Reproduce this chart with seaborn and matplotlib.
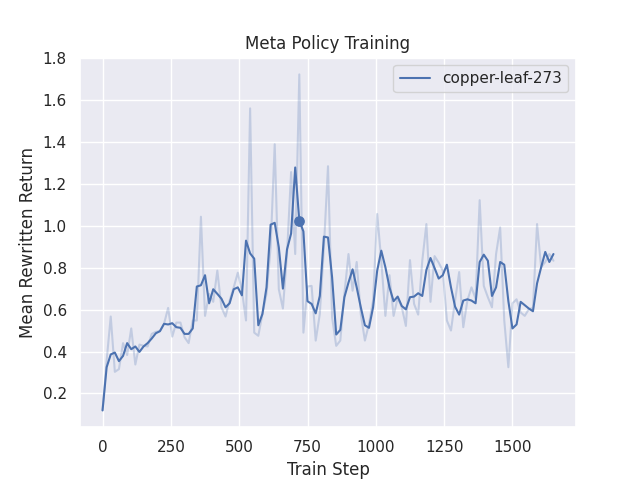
import numpy as np
import pandas as pd
import matplotlib; matplotlib.use("Agg")
import matplotlib.pyplot as plt
import seaborn as sns

sns.set_theme(style="darkgrid")

STEP_SIZE = 15
smoothed = [0.119, 0.325, 0.386, 0.395, 0.354, 0.379, 0.440, 0.411, 0.424, 0.398,
            0.424, 0.440, 0.462, 0.487, 0.497, 0.532, 0.529, 0.535, 0.516, 0.513,
            0.484, 0.484, 0.510, 0.710, 0.716, 0.764, 0.630, 0.697, 0.675, 0.652,
            0.611, 0.630, 0.697, 0.706, 0.668, 0.929, 0.868, 0.843, 0.525, 0.579,
            0.706, 1.005, 1.014, 0.897, 0.700, 0.887, 0.963, 1.278, 1.024, 0.973,
            0.640, 0.627, 0.582, 0.665, 0.948, 0.944, 0.754, 0.481, 0.503,
            0.659, 0.729, 0.792, 0.706, 0.611, 0.525, 0.513, 0.611, 0.786, 0.881,
            0.802, 0.706, 0.640, 0.662, 0.617, 0.601, 0.659, 0.662, 0.678, 0.665,
            0.789, 0.846, 0.798, 0.748, 0.764, 0.814, 0.706, 0.614, 0.576, 0.643,
            0.649, 0.643, 0.630, 0.827, 0.862, 0.833, 0.665, 0.706, 0.827, 0.814,
            0.640, 0.510, 0.529, 0.637, 0.621, 0.605, 0.592, 0.725, 0.802, 0.875,
            0.827, 0.865]
raw = [0.119, 0.357, 0.567, 0.303, 0.316, 0.440, 0.383, 0.510, 0.338, 0.433,
       0.427, 0.424, 0.484, 0.494, 0.497, 0.532, 0.608, 0.471, 0.538, 0.538,
       0.468, 0.440, 0.548, 0.548, 1.043, 0.570, 0.675, 0.637, 0.786, 0.611,
       0.567, 0.643, 0.706, 0.776, 0.690, 0.548, 1.560, 0.490, 0.475, 0.579,
       0.675, 0.897, 1.389, 0.697, 0.605, 0.865, 1.256, 0.865, 1.722, 0.490,
       0.710, 0.713, 0.452, 0.579, 0.897, 1.284, 0.563, 0.427, 0.452,
       0.675, 0.865, 0.690, 0.827, 0.579, 0.452, 0.532, 0.643, 1.056, 0.833,
       0.570, 0.764, 0.570, 0.656, 0.611, 0.522, 0.836, 0.627, 0.576, 0.833,
       1.008, 0.637, 0.855, 0.824, 0.786, 0.548, 0.500, 0.643, 0.779, 0.516,
       0.643, 0.706, 0.652, 1.122, 0.713, 0.659, 0.611, 0.865, 0.992, 0.548,
       0.325, 0.630, 0.649, 0.586, 0.570, 0.602, 0.608, 1.008, 0.802, 0.827,
       0.865, 0.833]
marker_idx = 48

steps = np.arange(len(smoothed)) * STEP_SIZE
df = pd.DataFrame({"step": steps, "smooth": smoothed, "raw": raw})

fig, ax = plt.subplots(figsize=(6.4, 4.8), dpi=100)
color = sns.color_palette()[0]
sns.lineplot(data=df, x="step", y="raw", color=color, alpha=0.25, ax=ax)
sns.lineplot(data=df, x="step", y="smooth", color=color, label="copper-leaf-273", ax=ax)
ax.scatter(steps[marker_idx], smoothed[marker_idx], color=color, s=45, zorder=5)

ax.set_title("Meta Policy Training")
ax.set_xlabel("Train Step")
ax.set_ylabel("Mean Rewritten Return")
ax.legend(loc="upper right")
plt.savefig("out.png", dpi=100)
